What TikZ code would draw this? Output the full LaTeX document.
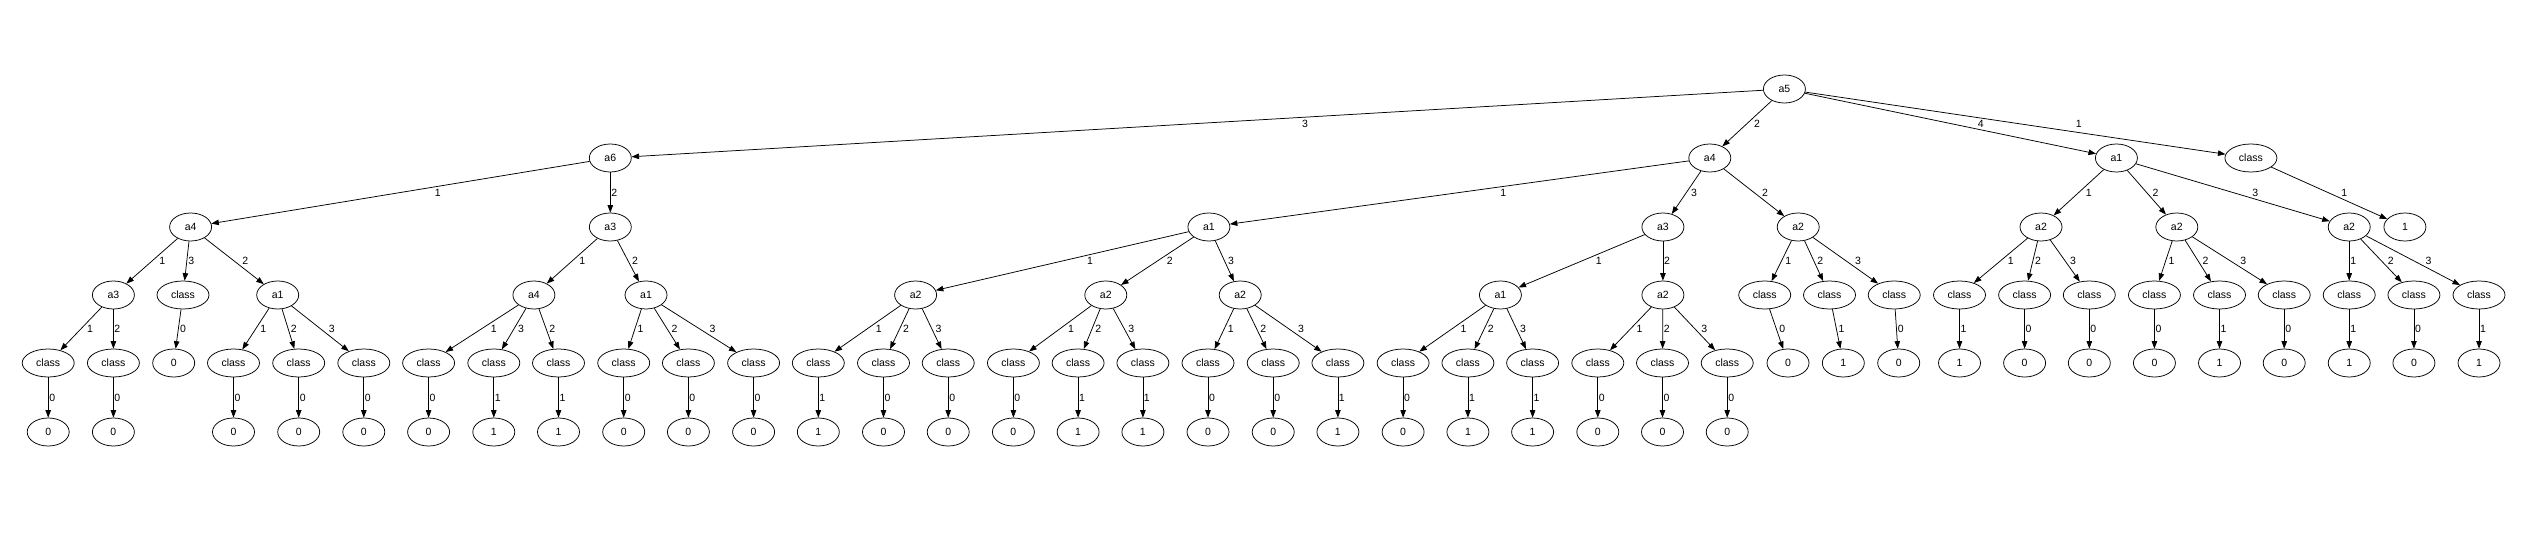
\documentclass[tikz,border=0pt]{standalone}
\usepackage{fontspec}
\setmainfont{Liberation Sans}
\usetikzlibrary{shapes.geometric,arrows.meta,calc}
\tikzset{
  gv/.style={ellipse, draw=black, line width=0.75pt, inner sep=0pt, minimum height=28pt, font=\fontsize{10.5}{12}\selectfont},
  an/.style={gv, minimum width=42pt},
  cn/.style={gv, minimum width=52pt},
  ln/.style={gv, minimum width=42pt},
  edge/.style={draw=black, line width=0.75pt, -{Triangle[length=7.5pt,width=5.5pt]}},
  lab/.style={inner sep=0pt, font=\fontsize{10.5}{12}\selectfont},
}
\newcommand{\edg}[4][0]{%
  \draw[edge] (#2) -- (#3);
  \path let \p1=(#2.center), \p2=(#3.center), \n1={4+5.5*abs(\x2-\x1)/abs(\y2-\y1)+#1} in
    node[lab, xshift=\n1] at ($(\p1)!0.5!(\p2)$) {#4};
}
\begin{document}
\begin{tikzpicture}[x=1pt,y=-1pt]
\useasboundingbox (0,0) rectangle (2526,556);
% level 0
\node[an] (r) at (1784.4,89) {a5};
% level 1
\node[an] (A6) at (610.3,158) {a6};
\node[an] (A4) at (1709.8,158) {a4};
\node[an] (A1) at (2116.4,158) {a1};
\node[cn] (C0) at (2250.9,158) {class};
% level 2
\node[an] (b1) at (190.6,227) {a4};
\node[an] (b2) at (610.3,227) {a3};
\node[an] (b3) at (1208.9,227) {a1};
\node[an] (b4) at (1662.9,227) {a3};
\node[an] (b5) at (1798.2,227) {a2};
\node[an] (b6) at (2041.0,227) {a2};
\node[an] (b7) at (2176.8,227) {a2};
\node[an] (b8) at (2349.2,227) {a2};
\node[ln] (b9) at (2404.9,227) {1};
% level 3
\node[an] (c1) at (113.4,295) {a3};
\node[cn] (c2) at (183.0,295) {class};
\node[an] (c3) at (277.7,295) {a1};
\node[an] (c4) at (533.9,295) {a4};
\node[an] (c5) at (646.0,295) {a1};
\node[an] (c6) at (915.6,295) {a2};
\node[an] (c7) at (1105.8,295) {a2};
\node[an] (c8) at (1240.2,295) {a2};
\node[an] (c9) at (1500.4,295) {a1};
\node[an] (c10) at (1662.9,295) {a2};
\node[cn] (c11) at (1764.7,295) {class};
\node[cn] (c12) at (1829.5,295) {class};
\node[cn] (c13) at (1894.2,295) {class};
\node[cn] (c14) at (1959.5,295) {class};
\node[cn] (c15) at (2024.6,295) {class};
\node[cn] (c16) at (2089.3,295) {class};
\node[cn] (c17) at (2154.4,295) {class};
\node[cn] (c18) at (2219.5,295) {class};
\node[cn] (c19) at (2284.2,295) {class};
\node[cn] (c20) at (2349.2,295) {class};
\node[cn] (c21) at (2413.9,295) {class};
\node[cn] (c22) at (2479.0,295) {class};
% level 4
\node[cn] (d1) at (48.2,363) {class};
\node[cn] (d2) at (113.4,363) {class};
\node[ln] (d3) at (173.7,363) {0};
\node[cn] (d4) at (233.5,363) {class};
\node[cn] (d5) at (298.7,363) {class};
\node[cn] (d6) at (363.8,363) {class};
\node[cn] (d7) at (428.6,363) {class};
\node[cn] (d8) at (493.8,363) {class};
\node[cn] (d9) at (558.5,363) {class};
\node[cn] (d10) at (623.7,363) {class};
\node[cn] (d11) at (688.4,363) {class};
\node[cn] (d12) at (753.6,363) {class};
\node[cn] (d13) at (818.3,363) {class};
\node[cn] (d14) at (883.5,363) {class};
\node[cn] (d15) at (948.2,363) {class};
\node[cn] (d16) at (1013.4,363) {class};
\node[cn] (d17) at (1078.1,363) {class};
\node[cn] (d18) at (1142.9,363) {class};
\node[cn] (d19) at (1208.0,363) {class};
\node[cn] (d20) at (1273.2,363) {class};
\node[cn] (d21) at (1337.9,363) {class};
\node[cn] (d22) at (1403.1,363) {class};
\node[cn] (d23) at (1467.9,363) {class};
\node[cn] (d24) at (1532.6,363) {class};
\node[cn] (d25) at (1597.8,363) {class};
\node[cn] (d26) at (1662.5,363) {class};
\node[cn] (d27) at (1727.2,363) {class};
\node[ln] (d28) at (1788.0,363) {0};
\node[ln] (d29) at (1843.3,363) {1};
\node[ln] (d30) at (1898.7,363) {0};
\node[ln] (d31) at (1959.5,363) {1};
\node[ln] (d32) at (2024.6,363) {0};
\node[ln] (d33) at (2089.3,363) {0};
\node[ln] (d34) at (2154.4,363) {0};
\node[ln] (d35) at (2219.5,363) {1};
\node[ln] (d36) at (2284.2,363) {0};
\node[ln] (d37) at (2349.2,363) {1};
\node[ln] (d38) at (2413.9,363) {0};
\node[ln] (d39) at (2479.0,363) {1};
% level 5
\node[ln] (e1) at (48.2,432) {0};
\node[ln] (e2) at (113.4,432) {0};
\node[ln] (e4) at (233.5,432) {0};
\node[ln] (e5) at (298.7,432) {0};
\node[ln] (e6) at (363.8,432) {0};
\node[ln] (e7) at (428.6,432) {0};
\node[ln] (e8) at (493.8,432) {1};
\node[ln] (e9) at (558.5,432) {1};
\node[ln] (e10) at (623.7,432) {0};
\node[ln] (e11) at (688.4,432) {0};
\node[ln] (e12) at (753.6,432) {0};
\node[ln] (e13) at (818.3,432) {1};
\node[ln] (e14) at (883.5,432) {0};
\node[ln] (e15) at (948.2,432) {0};
\node[ln] (e16) at (1013.4,432) {0};
\node[ln] (e17) at (1078.1,432) {1};
\node[ln] (e18) at (1142.9,432) {1};
\node[ln] (e19) at (1208.0,432) {0};
\node[ln] (e20) at (1273.2,432) {0};
\node[ln] (e21) at (1337.9,432) {1};
\node[ln] (e22) at (1403.1,432) {0};
\node[ln] (e23) at (1467.9,432) {1};
\node[ln] (e24) at (1532.6,432) {1};
\node[ln] (e25) at (1597.8,432) {0};
\node[ln] (e26) at (1662.5,432) {0};
\node[ln] (e27) at (1727.2,432) {0};
% edges level 0-1
\edg[10]{r}{A6}{3}
\edg{r}{A4}{2}
\edg{r}{A1}{4}
\edg[20]{r}{C0}{1}
% level 1-2
\edg{A6}{b1}{1}
\edg{A6}{b2}{2}
\edg{A4}{b3}{1}
\edg{A4}{b4}{3}
\edg{A4}{b5}{2}
\edg{A1}{b6}{1}
\edg{A1}{b7}{2}
\edg{A1}{b8}{3}
\edg{C0}{b9}{1}
% level 2-3
\edg{b1}{c1}{1}
\edg{b1}{c2}{3}
\edg{b1}{c3}{2}
\edg{b2}{c4}{1}
\edg{b2}{c5}{2}
\edg{b3}{c6}{1}
\edg{b3}{c7}{2}
\edg{b3}{c8}{3}
\edg{b4}{c9}{1}
\edg{b4}{c10}{2}
\edg{b5}{c11}{1}
\edg{b5}{c12}{2}
\edg{b5}{c13}{3}
\edg{b6}{c14}{1}
\edg{b6}{c15}{2}
\edg{b6}{c16}{3}
\edg{b7}{c17}{1}
\edg{b7}{c18}{2}
\edg{b7}{c19}{3}
\edg{b8}{c20}{1}
\edg{b8}{c21}{2}
\edg{b8}{c22}{3}
% level 3-4
\edg{c1}{d1}{1}
\edg{c1}{d2}{2}
\edg{c2}{d3}{0}
\edg{c3}{d4}{1}
\edg{c3}{d5}{2}
\edg{c3}{d6}{3}
\edg{c4}{d7}{1}
\edg{c4}{d8}{3}
\edg{c4}{d9}{2}
\edg{c5}{d10}{1}
\edg{c5}{d11}{2}
\edg{c5}{d12}{3}
\edg{c6}{d13}{1}
\edg{c6}{d14}{2}
\edg{c6}{d15}{3}
\edg{c7}{d16}{1}
\edg{c7}{d17}{2}
\edg{c7}{d18}{3}
\edg{c8}{d19}{1}
\edg{c8}{d20}{2}
\edg{c8}{d21}{3}
\edg{c9}{d22}{1}
\edg{c9}{d23}{2}
\edg{c9}{d24}{3}
\edg{c10}{d25}{1}
\edg{c10}{d26}{2}
\edg{c10}{d27}{3}
\edg{c11}{d28}{0}
\edg{c12}{d29}{1}
\edg{c13}{d30}{0}
\edg{c14}{d31}{1}
\edg{c15}{d32}{0}
\edg{c16}{d33}{0}
\edg{c17}{d34}{0}
\edg{c18}{d35}{1}
\edg{c19}{d36}{0}
\edg{c20}{d37}{1}
\edg{c21}{d38}{0}
\edg{c22}{d39}{1}
% level 4-5
\edg{d1}{e1}{0}
\edg{d2}{e2}{0}
\edg{d4}{e4}{0}
\edg{d5}{e5}{0}
\edg{d6}{e6}{0}
\edg{d7}{e7}{0}
\edg{d8}{e8}{1}
\edg{d9}{e9}{1}
\edg{d10}{e10}{0}
\edg{d11}{e11}{0}
\edg{d12}{e12}{0}
\edg{d13}{e13}{1}
\edg{d14}{e14}{0}
\edg{d15}{e15}{0}
\edg{d16}{e16}{0}
\edg{d17}{e17}{1}
\edg{d18}{e18}{1}
\edg{d19}{e19}{0}
\edg{d20}{e20}{0}
\edg{d21}{e21}{1}
\edg{d22}{e22}{0}
\edg{d23}{e23}{1}
\edg{d24}{e24}{1}
\edg{d25}{e25}{0}
\edg{d26}{e26}{0}
\edg{d27}{e27}{0}
\end{tikzpicture}
\end{document}
